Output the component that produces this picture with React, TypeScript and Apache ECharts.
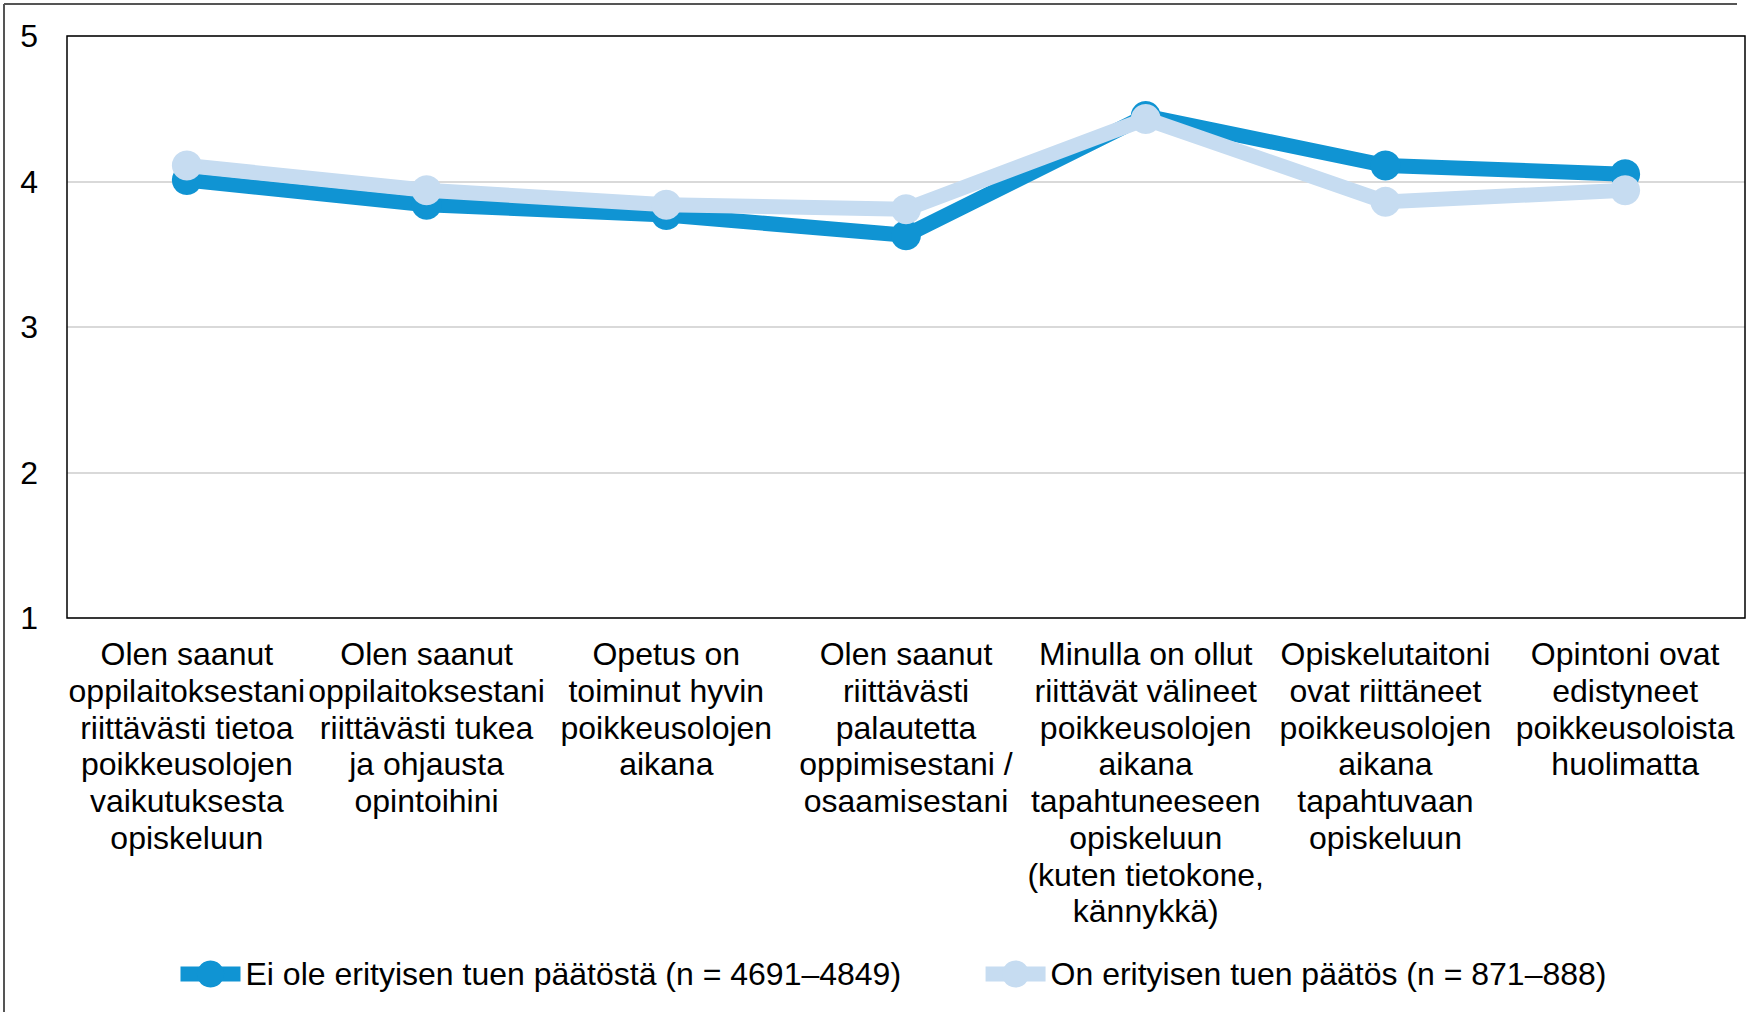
import React, { useEffect, useRef } from "react";
import * as echarts from "echarts";

const categories: string[] = [
  "Olen saanut\noppilaitoksestani\nriittävästi tietoa\npoikkeusolojen\nvaikutuksesta\nopiskeluun",
  "Olen saanut\noppilaitoksestani\nriittävästi tukea\nja ohjausta\nopintoihini",
  "Opetus on\ntoiminut hyvin\npoikkeusolojen\naikana",
  "Olen saanut\nriittävästi\npalautetta\noppimisestani /\nosaamisestani",
  "Minulla on ollut\nriittävät välineet\npoikkeusolojen\naikana\ntapahtuneeseen\nopiskeluun\n(kuten tietokone,\nkännykkä)",
  "Opiskelutaitoni\novat riittäneet\npoikkeusolojen\naikana\ntapahtuvaan\nopiskeluun",
  "Opintoni ovat\nedistyneet\npoikkeusoloista\nhuolimatta",
];

const seriesNames: string[] = [
  "Ei ole erityisen tuen päätöstä (n = 4691–4849)",
  "On erityisen tuen päätös (n = 871–888)",
];

const noDecision: number[] = [4.01, 3.84, 3.77, 3.63, 4.45, 4.11, 4.05];
const withDecision: number[] = [4.11, 3.94, 3.84, 3.81, 4.43, 3.86, 3.94];

const yTicks = { min: 1, max: 5, interval: 1 };

const FONT = "'Liberation Sans', Arial, sans-serif";
const DARK = "#1094D3";
const LIGHT = "#C6DCF1";

const GRID = { left: 67, top: 36, right: 6, bottom: 394 };
const W = 1751;
const H = 1012;

export default function App() {
  const ref = useRef<HTMLDivElement>(null);

  useEffect(() => {
    if (!ref.current) return;
    const chart = echarts.init(ref.current, undefined, { renderer: "svg" });
    chart.setOption({
      animation: false,
      backgroundColor: "#ffffff",
      textStyle: { fontFamily: FONT },
      graphic: [
        {
          type: "line",
          shape: { x1: 4, y1: 4, x2: 1737, y2: 4 },
          style: { stroke: "#555555", lineWidth: 2 },
        },
        {
          type: "line",
          shape: { x1: 4, y1: 4, x2: 4, y2: H },
          style: { stroke: "#555555", lineWidth: 2 },
        },
        {
          type: "rect",
          z: 100,
          silent: true,
          shape: {
            x: GRID.left,
            y: GRID.top,
            width: W - GRID.left - GRID.right,
            height: H - GRID.top - GRID.bottom,
          },
          style: { fill: "none", stroke: "#000000", lineWidth: 1.5 },
        },
      ],
      grid: {
        ...GRID,
        show: false,
      },
      legend: {
        left: 168,
        top: 953,
        itemWidth: 60,
        itemHeight: 34,
        itemGap: 77,
        lineStyle: { width: 15 },
        textStyle: { fontSize: 32, color: "#000000", fontFamily: FONT },
        data: seriesNames,
      },
      xAxis: {
        type: "category",
        data: categories,
        boundaryGap: true,
        axisLine: { show: false },
        axisTick: { show: false },
        splitLine: { show: false },
        axisLabel: {
          interval: 0,
          margin: 18,
          fontSize: 32,
          lineHeight: 36.7,
          color: "#000000",
          fontFamily: FONT,
          align: "center",
        },
      },
      yAxis: {
        type: "value",
        min: yTicks.min,
        max: yTicks.max,
        interval: yTicks.interval,
        axisLine: { show: false },
        axisTick: { show: false },
        splitLine: { show: true, lineStyle: { color: "#D9D9D9", width: 2 } },
        axisLabel: {
          margin: 29,
          fontSize: 32,
          color: "#000000",
          fontFamily: FONT,
        },
      },
      series: [
        {
          name: seriesNames[0],
          type: "line",
          data: noDecision,
          symbol: "circle",
          symbolSize: 30,
          color: DARK,
          itemStyle: { color: DARK },
          lineStyle: { color: DARK, width: 15 },
          z: 2,
        },
        {
          name: seriesNames[1],
          type: "line",
          data: withDecision,
          symbol: "circle",
          symbolSize: 30,
          color: LIGHT,
          itemStyle: { color: LIGHT },
          lineStyle: { color: LIGHT, width: 15 },
          z: 3,
        },
      ],
    });
    return () => chart.dispose();
  }, []);

  return (
    <div
      ref={ref}
      style={{ position: "fixed", left: 0, top: 0, width: W, height: H }}
    />
  );
}
